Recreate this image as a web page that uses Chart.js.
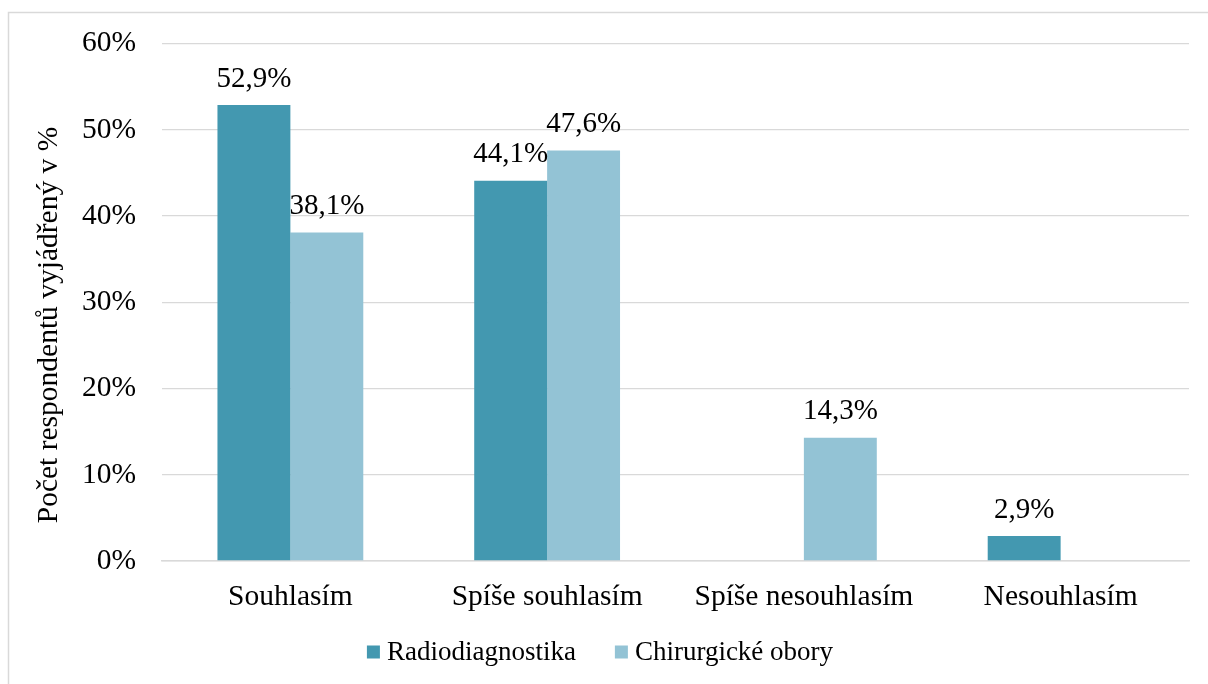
<!DOCTYPE html>
<html lang="cs">
<head>
<meta charset="utf-8">
<title>Počet respondentů</title>
<script src="https://cdn.jsdelivr.net/npm/chart.js@4/dist/chart.umd.min.js"></script>
<style>
  html, body { margin: 0; padding: 0; background: #ffffff; }
  #wrap { width: 1208px; height: 684px; position: relative; }
</style>
</head>
<body>
<div id="wrap"><canvas id="c" width="1208" height="684"></canvas></div>
<script>
// Answer categories
const categories = ['Souhlasím', 'Spíše souhlasím', 'Spíše nesouhlasím', 'Nesouhlasím'];
// Share of respondents (%) per group
const radiodiagnostika = [52.9, 44.1, 0, 2.9];
const chirurgickeObory = [38.1, 47.6, 14.3, 0];
const seriesNames = ['Radiodiagnostika', 'Chirurgické obory'];
// Value axis
const yMax = 60;
const yStep = 10;
const yTitle = 'Počet respondentů vyjádřený v %';

const FONT = "'Liberation Serif', 'Times New Roman', serif";
const colors = ['#4398B0', '#93C3D5'];
const fmt = v => v.toFixed(1).replace('.', ',') + '%';

// Frame line along the top and left edges of the chart
const framePlugin = {
  id: 'frame',
  beforeDraw(chart) {
    const ctx = chart.ctx;
    ctx.save();
    ctx.strokeStyle = '#d9d9d9';
    ctx.lineWidth = 1.5;
    ctx.beginPath();
    ctx.moveTo(8.5, chart.height);
    ctx.lineTo(8.5, 12.5);
    ctx.lineTo(chart.width, 12.5);
    ctx.stroke();
    ctx.restore();
  }
};

// Rotated value-axis title
const axisTitle = {
  id: 'axisTitle',
  afterDraw(chart) {
    const ctx = chart.ctx;
    ctx.save();
    ctx.translate(57, 325);
    ctx.rotate(-Math.PI / 2);
    ctx.font = '29.5px ' + FONT;
    ctx.fillStyle = '#000';
    ctx.textAlign = 'center';
    ctx.textBaseline = 'alphabetic';
    ctx.fillText(yTitle, 0, 0);
    ctx.restore();
  }
};

// Value labels above each non-zero bar
const valueLabels = {
  id: 'valueLabels',
  afterDatasetsDraw(chart) {
    const ctx = chart.ctx;
    ctx.save();
    ctx.font = '29px ' + FONT;
    ctx.fillStyle = '#000';
    ctx.textAlign = 'center';
    ctx.textBaseline = 'middle';
    chart.data.datasets.forEach((ds, di) => {
      const meta = chart.getDatasetMeta(di);
      meta.data.forEach((bar, i) => {
        const v = ds.data[i];
        if (!v) return;
        ctx.fillText(fmt(v), bar.x, bar.y - 26);
      });
    });
    ctx.restore();
  }
};

// Legend row below the category labels
const legendRow = {
  id: 'legendRow',
  afterDraw(chart) {
    const ctx = chart.ctx;
    ctx.save();
    ctx.font = '27px ' + FONT;
    ctx.textBaseline = 'middle';
    ctx.textAlign = 'left';
    const box = 13, gapText = 7, gapItem = 39, cy = 652, centerX = 600;
    const widths = seriesNames.map(n => ctx.measureText(n).width);
    const total = widths.reduce((a, w) => a + box + gapText + w, 0) + gapItem * (seriesNames.length - 1);
    let x = centerX - total / 2;
    seriesNames.forEach((n, i) => {
      ctx.fillStyle = colors[i];
      ctx.fillRect(x, cy - box / 2, box, box);
      ctx.fillStyle = '#000';
      ctx.fillText(n, x + box + gapText, cy + 1);
      x += box + gapText + widths[i] + gapItem;
    });
    ctx.restore();
  }
};

new Chart(document.getElementById('c'), {
  type: 'bar',
  data: {
    labels: categories,
    datasets: [
      { label: seriesNames[0], data: radiodiagnostika, backgroundColor: colors[0] },
      { label: seriesNames[1], data: chirurgickeObory, backgroundColor: colors[1] }
    ]
  },
  options: {
    responsive: false,
    animation: false,
    devicePixelRatio: 1,
    layout: { padding: { left: 0, right: 19, top: 42, bottom: 60 } },
    datasets: { bar: { categoryPercentage: 0.568, barPercentage: 1.0 } },
    plugins: {
      legend: { display: false },
      tooltip: { enabled: false }
    },
    scales: {
      x: {
        grid: { display: false, drawTicks: false },
        border: { display: true, color: '#d9d9d9', width: 1.5 },
        ticks: { color: '#000', font: { family: FONT, size: 29.5 }, padding: 19, maxRotation: 0 },
        afterFit(s) { s.height = 63; }
      },
      y: {
        min: 0,
        max: yMax,
        grid: { color: '#d9d9d9', lineWidth: 1.3, drawTicks: false },
        border: { display: false },
        ticks: {
          stepSize: yStep,
          color: '#000',
          font: { family: FONT, size: 29.5 },
          padding: 26,
          callback: v => v + '%'
        },
        title: { display: false },
        afterFit(s) { s.width = 162; }
      }
    }
  },
  plugins: [framePlugin, axisTitle, valueLabels, legendRow]
});
</script>
</body>
</html>
